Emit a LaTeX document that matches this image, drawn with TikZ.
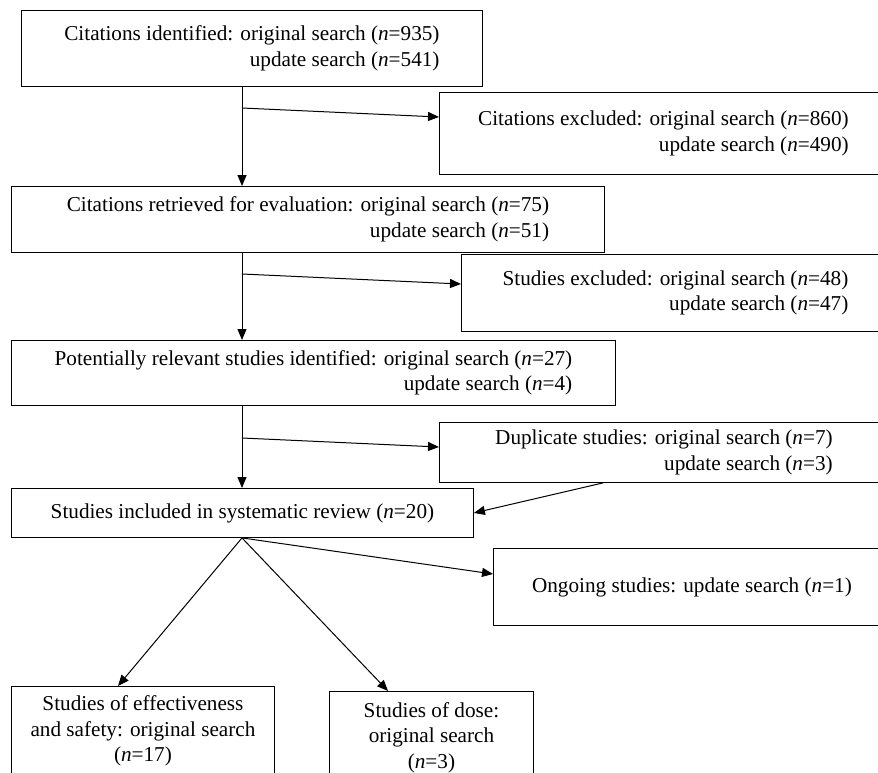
\documentclass[tikz,border=0pt]{standalone}
\usepackage{fontspec}
\setmainfont{Liberation Serif}
\usetikzlibrary{arrows.meta,positioning}
\newcommand{\nn}[1]{(\textit{n}=#1)}

\begin{document}
\begin{tikzpicture}[
  x=1pt, y=-1pt,
  stage/.style={
    draw=black,
    fill=white,
    line width=0.9pt,
    anchor=north west,
    inner sep=0pt,
    align=right,
    font=\fontsize{21.2}{25.5}\selectfont
  },
  connector/.style={
    -{Triangle[length=11pt,width=9pt]},
    draw=black,
    line width=1pt
  }
]
\path[use as bounding box, clip] (0,0) rectangle (878,772);
\coordinate (spine) at (242,0);

% main column
\node[stage, minimum width=461pt, minimum height=76pt] (identified) at (21,10) {%
  Citations identified: original search \nn{935}\\
  update search \nn{541}};
\node[stage, minimum width=593pt, minimum height=66pt] (retrieved) at (11,186) {%
  Citations retrieved for evaluation: original search \nn{75}\\
  update search \nn{51}};
\node[stage, minimum width=604pt, minimum height=65pt] (relevant) at (11,340) {%
  Potentially relevant studies identified: original search \nn{27}\\
  update search \nn{4}};
\node[stage, minimum width=462pt, minimum height=49pt] (included) at (11,488) {%
  Studies included in systematic review \nn{20}};

% side boxes
\node[stage, minimum width=448pt, minimum height=82pt] (excluded) at (439,92) {%
  Citations excluded: original search \nn{860}\\
  update search \nn{490}};
\node[stage, minimum width=428pt, minimum height=77pt] (studyexcl) at (461,254) {%
  Studies excluded: original search \nn{48}\\
  update search \nn{47}};
\node[stage, minimum width=449pt, minimum height=60pt] (duplicate) at (439,422) {%
  Duplicate studies: original search \nn{7}\\
  update search \nn{3}};
\node[stage, minimum width=397pt, minimum height=77pt] (ongoing) at (493,548) {%
  Ongoing studies: update search \nn{1}};

% bottom boxes
\node[stage, align=center, minimum width=263pt, minimum height=89pt] (effect) at (11,686) {%
  Studies of effectiveness\\
  and safety: original search\\
  \nn{17}};
\node[stage, align=center, minimum width=204pt, minimum height=92pt] (dose) at (329,691) {%
  Studies of dose:\\
  original search\\
  \nn{3}};

% split points on the spine
\coordinate (split1) at (242,108);
\coordinate (split2) at (242,274);
\coordinate (split3) at (242,438);
\coordinate (fan) at (included.south -| spine);

\draw[connector] (identified.south -| spine) -- (retrieved.north -| spine);
\draw[connector] (retrieved.south -| spine) -- (relevant.north -| spine);
\draw[connector] (relevant.south -| spine) -- (included.north -| spine);

\draw[connector] (split1) -- ([yshift=-25pt]excluded.north west);
\draw[connector] (split2) -- ([yshift=-30pt]studyexcl.north west);
\draw[connector] (split3) -- ([yshift=-25pt]duplicate.north west);
\draw[connector] ([xshift=164pt]duplicate.south west) -- (included.east);

\draw[connector] (fan) -- ([yshift=-26pt]ongoing.north west);
\draw[connector] (fan) -- ([xshift=107pt]effect.north west);
\draw[connector] (fan) -- ([xshift=59pt]dose.north west);
\end{tikzpicture}
\end{document}
